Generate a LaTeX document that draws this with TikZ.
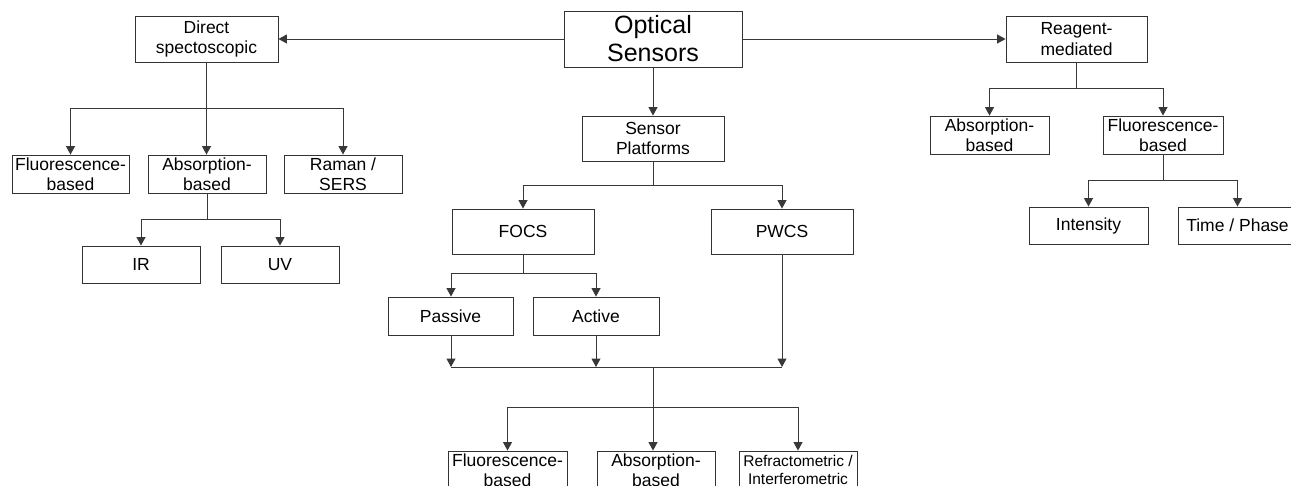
\documentclass[tikz,border=0pt]{standalone}
\usepackage{fontspec}
\setmainfont{Liberation Sans}
\usetikzlibrary{arrows.meta}
\begin{document}
\begin{tikzpicture}[x=1pt,y=-1pt,
  box/.style={draw=black!80, line width=0.9pt, inner sep=0pt, align=center,
    font=\fontsize{17.5}{20.5}\selectfont},
  conn/.style={draw=black!78, line width=1pt},
  arr/.style={conn, -{Triangle[width=9pt,length=8.5pt]}}]
\clip (0,0) rectangle (1291,485);
\fill[white] (0,0) rectangle (1291,485);
% nodes
\node[box, minimum width=178pt, minimum height=56pt, font=\fontsize{25}{28}\selectfont] (optical) at (653,39) {Optical\\Sensors};
\node[box, minimum width=143pt, minimum height=46pt] (direct) at (206.5,39) {Direct\\spectoscopic};
\node[box, minimum width=141pt, minimum height=46pt] (reagent) at (1076.5,39) {Reagent-\\mediated};
\node[box, minimum width=117pt, minimum height=38pt] (dfluo) at (70.5,174) {Fluorescence-\\based};
\node[box, minimum width=118pt, minimum height=38pt] (dabs) at (207,174) {Absorption-\\based};
\node[box, minimum width=118pt, minimum height=38pt] (raman) at (343,174) {Raman /\\SERS};
\node[box, minimum width=118pt, minimum height=37pt] (ir) at (141,264.5) {IR};
\node[box, minimum width=118pt, minimum height=37pt] (uv) at (280,264.5) {UV};
\node[box, minimum width=142pt, minimum height=45pt] (platforms) at (653,138.5) {Sensor\\Platforms};
\node[box, minimum width=142pt, minimum height=45pt] (focs) at (523,231.5) {FOCS};
\node[box, minimum width=142pt, minimum height=45pt] (pwcs) at (782,231.5) {PWCS};
\node[box, minimum width=125pt, minimum height=38pt] (passive) at (450.5,316) {Passive};
\node[box, minimum width=126pt, minimum height=38pt] (active) at (596,316) {Active};
\node[box, minimum width=119pt, minimum height=38pt] (rabs) at (989.5,135) {Absorption-\\based};
\node[box, minimum width=120pt, minimum height=38pt] (rfluo) at (1163,135) {Fluorescence-\\based};
\node[box, minimum width=119pt, minimum height=37pt] (intensity) at (1088.5,225.5) {Intensity};
\node[box, minimum width=119pt, minimum height=37pt] (timephase) at (1237.5,225.5) {Time / Phase};
\node[box, minimum width=119pt, minimum height=38pt] (bfluo) at (507.5,470) {Fluorescence-\\based};
\node[box, minimum width=118pt, minimum height=38pt] (babs) at (656,470) {Absorption-\\based};
\node[box, minimum width=118pt, minimum height=38pt, font=\fontsize{15.5}{18}\selectfont] (brefr) at (798,470) {Refractometric /\\Interferometric};
% top level
\draw[arr] (optical.west) -- (direct.east);
\draw[arr] (optical.east) -- (reagent.west);
\draw[arr] (optical.south) -- (platforms.north);
% direct spectroscopic
\coordinate (j1) at (206.5,108);
\draw[conn] (direct.south) -- (j1);
\draw[arr] (j1) -| (dfluo.north);
\draw[arr] (j1) -| (raman.north);
\draw[arr] (j1) -- (j1 |- dabs.north);
\coordinate (j2) at (207,219);
\draw[conn] (dabs.south) -- (j2);
\draw[arr] (j2) -| (ir.north);
\draw[arr] (j2) -| (uv.north);
% platforms
\coordinate (j3) at (653,185);
\draw[conn] (platforms.south) -- (j3);
\draw[arr] (j3) -| (focs.north);
\draw[arr] (j3) -| (pwcs.north);
\coordinate (j4) at (523,273);
\draw[conn] (focs.south) -- (j4);
\draw[arr] (j4) -| ([xshift=0.5pt]passive.north);
\draw[arr] (j4) -| (active.north);
\coordinate (m1) at (451,367);
\coordinate (m2) at (596,367);
\coordinate (m3) at (782,367);
\draw[arr] ([xshift=0.5pt]passive.south) -- (m1);
\draw[arr] (active.south) -- (m2);
\draw[arr] (pwcs.south) -- (m3);
\draw[conn] (m1) -- (m3);
\coordinate (j5) at (653,367);
\coordinate (j6) at (653,407);
\draw[conn] (j5) -- (j6);
\draw[arr] (j6) -| (bfluo.north);
\draw[arr] (j6) -| (brefr.north);
\draw[arr] (j6) -- (j6 |- babs.north);
% reagent
\coordinate (j7) at (1076.5,88);
\draw[conn] (reagent.south) -- (j7);
\draw[arr] (j7) -| (rabs.north);
\draw[arr] (j7) -| (rfluo.north);
\coordinate (j8) at (1163,180);
\draw[conn] (rfluo.south) -- (j8);
\draw[arr] (j8) -| (intensity.north);
\draw[arr] (j8) -| (timephase.north);
\end{tikzpicture}
\end{document}
